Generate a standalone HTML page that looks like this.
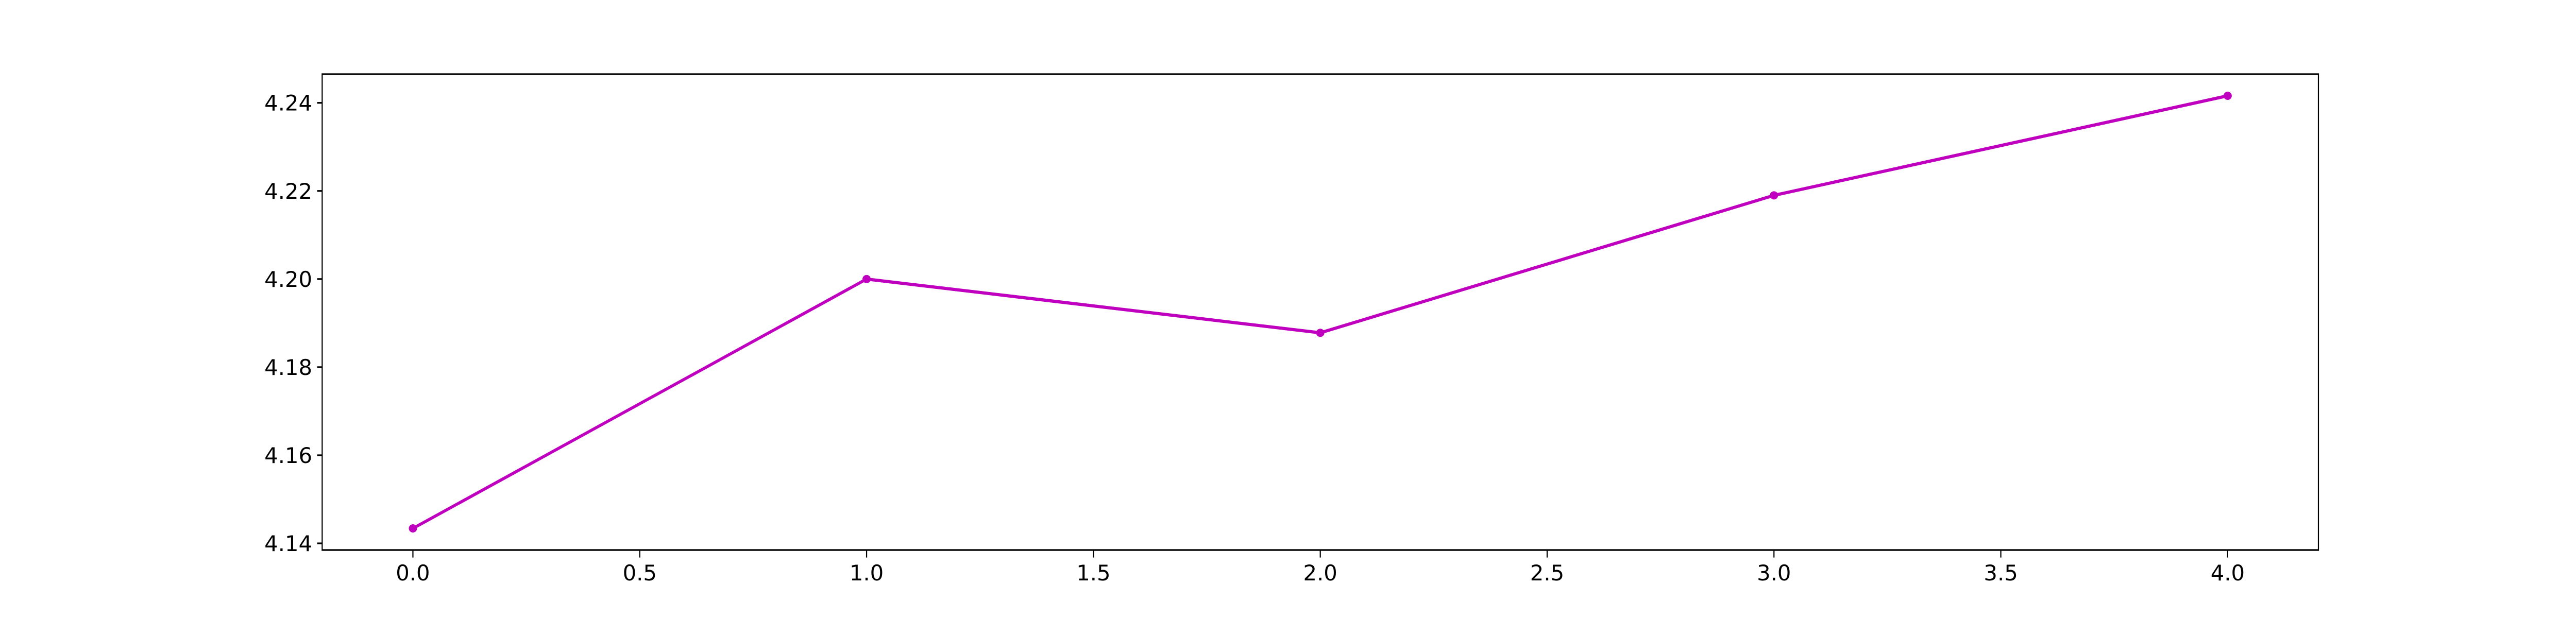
<!DOCTYPE html>
<html><head><meta charset="utf-8"><style>html,body{margin:0;padding:0;background:#fff;width:100%;height:100%;overflow:hidden}svg{display:block;width:100vw;height:100vh}</style></head>
<body>
<svg id="chart" viewBox="0 0 7500 1200" preserveAspectRatio="none" xmlns="http://www.w3.org/2000/svg" font-family="DejaVu Sans, Liberation Sans, sans-serif" font-size="41.7">
<rect width="7500" height="1200" fill="#fff"/>
<g id="plot"></g>
</svg>
<script>
const xValues = [0, 1, 2, 3, 4];
const yValues = [4.1434, 4.2000, 4.1878, 4.2190, 4.2416];
const xTicks = [0.0, 0.5, 1.0, 1.5, 2.0, 2.5, 3.0, 3.5, 4.0];
const yTicks = [4.14, 4.16, 4.18, 4.20, 4.22, 4.24];

const L = 938, R = 6750, T = 144, B = 1068;
const xmin = -0.2, xmax = 4.2;
const ylo = Math.min(...yValues), yhi = Math.max(...yValues);
const ymin = ylo - 0.05 * (yhi - ylo), ymax = yhi + 0.05 * (yhi - ylo);
const sx = v => L + (v - xmin) / (xmax - xmin) * (R - L);
const sy = v => B - (v - ymin) / (ymax - ymin) * (B - T);
const vw = window.innerWidth || 7500, vh = window.innerHeight || 1200;
const K = (vh / 1200) / (vw / 7500);
const NS = 'http://www.w3.org/2000/svg';
const g = document.getElementById('plot');
function mk(tag, attrs) { const e = document.createElementNS(NS, tag); for (const k in attrs) e.setAttribute(k, attrs[k]); g.appendChild(e); return e; }
function fixText(e, x, y) { e.setAttribute('transform', 'translate(' + x + ',' + y + ') scale(' + K + ',1) translate(' + (-x) + ',' + (-y) + ')'); }

xTicks.forEach(t => {
  const x = sx(t);
  const tk = mk('line', {x1: x, x2: x, y1: B, y2: B + 14.6, stroke: '#000', 'stroke-width': 3.3});
  
  
  const tx = mk('text', {x: x, y: B + 29 + 30, 'text-anchor': 'middle', fill: '#000'});
  tx.textContent = t.toFixed(1);
  fixText(tx, x, B + 59);
  
  
});
yTicks.forEach(t => {
  const y = sy(t);
  const tk = mk('line', {x1: L - 14.6, x2: L, y1: y, y2: y, stroke: '#000', 'stroke-width': 3.3});
  
  
  const tx = mk('text', {x: L - 29, y: y + 15, 'text-anchor': 'end', fill: '#000'});
  tx.textContent = t.toFixed(2);
  fixText(tx, L - 29, y + 15);
  
  
});

const pts = xValues.map((x, i) => sx(x) + ',' + sy(yValues[i])).join(' ');
const line = mk('polyline', {points: pts, fill: 'none', stroke: '#bf00bf', 'stroke-width': 6.25, 'stroke-linejoin': 'round', 'stroke-linecap': 'square'});


xValues.forEach((x, i) => {
  const c = mk('ellipse', {cx: sx(x), cy: sy(yValues[i]), rx: 8 * K, ry: 8, fill: '#bf00bf'});
  
  
});
const frame = mk('rect', {x: L, y: T, width: R - L, height: B - T, fill: 'none', stroke: '#000', 'stroke-width': 3.3});


</script>
</body></html>
